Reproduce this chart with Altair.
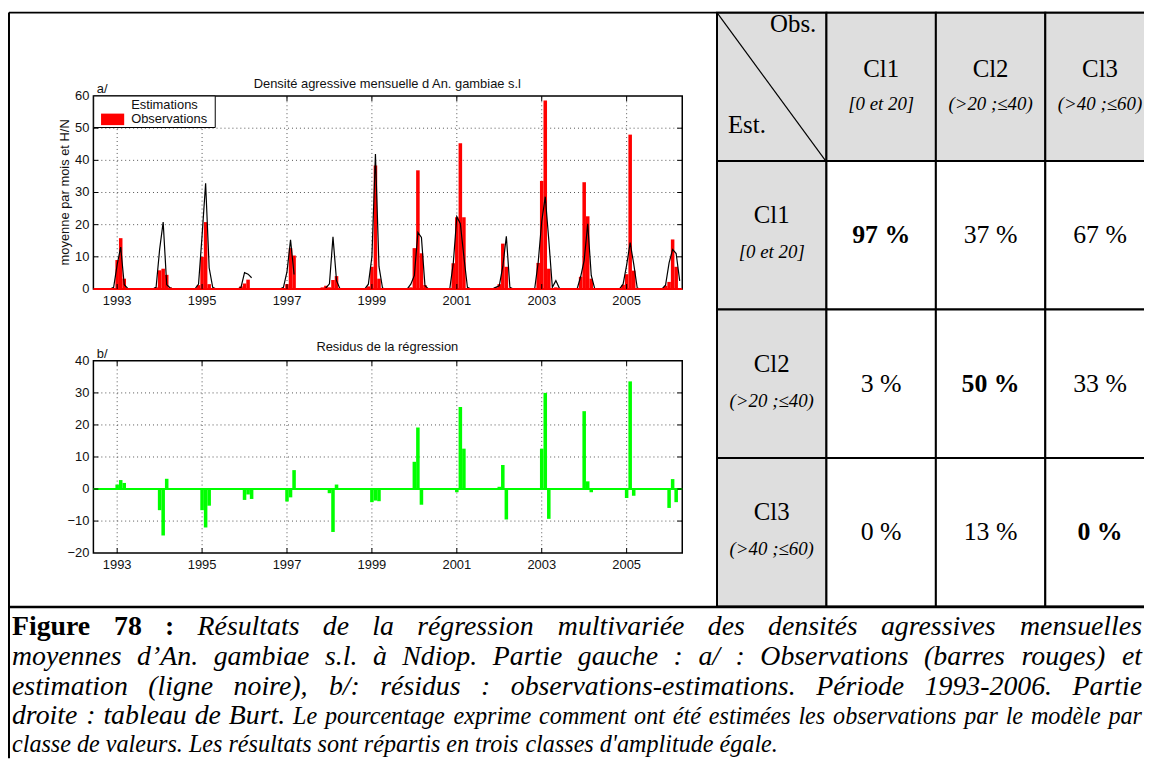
import altair as alt
import pandas as pd

W, H = 1144, 753


def X(p):
    return p - 8


def Y(p):
    return p - 8


SANS = "Liberation Sans"
SERIF = "Liberation Serif"

# ---------------- data ----------------
SEASONS = [1993, 1994, 1995, 1996, 1997, 1998, 1999, 2000, 2001, 2002, 2003, 2004, 2005, 2006]
# month offsets (in months) around each season's reference tick
OFFSETS = [-2, -1, 0, 1, 2, 3, 4, 5]

OBS = [
    [0.0, 0.3, 9.0, 15.8, 3.2, 0.0, 0.0, 0.0],    # 1993
    [0.0, 0.5, 5.8, 6.3, 4.4, 0.5, 0.0, 0.0],     # 1994
    [0.0, 1.2, 10.0, 20.8, 1.5, 0.0, 0.0, 0.0],   # 1995
    [0.0, 0.8, 1.7, 2.9, 0.3, 0.0, 0.0, 0.0],     # 1996
    [0.0, 0.3, 1.5, 12.7, 10.4, 0.0, 0.0, 0.0],   # 1997
    [0.5, 1.0, 0.5, 2.8, 4.0, 0.0, 0.0, 0.0],     # 1998
    [0.0, 0.8, 6.9, 38.4, 3.2, 0.3, 0.0, 0.0],    # 1999
    [0.0, 0.5, 12.7, 36.9, 11.1, 1.2, 0.0, 0.0],  # 2000
    [0.3, 8.0, 22.3, 45.3, 22.3, 0.3, 0.0, 0.0],  # 2001
    [0.0, 0.5, 1.5, 14.1, 6.9, 0.0, 0.0, 0.0],    # 2002
    [0.0, 8.1, 33.6, 58.6, 6.3, 0.3, 0.5, 0.0],   # 2003
    [0.0, 3.8, 33.2, 22.6, 3.2, 0.0, 0.0, 0.0],   # 2004
    [0.0, 1.3, 4.6, 48.0, 5.7, 0.0, 0.0, 0.0],    # 2005
    [0.0, 1.0, 2.2, 15.4, 6.9, 0.0, None, None],  # 2006
]

EST = [
    [0.0, 0.5, 7.6, 13.0, 1.3, 0.2, 0.0, 0.0],     # 1993
    [0.0, 0.5, 12.3, 20.8, 1.3, 0.3, 0.0, 0.0],    # 1994
    [0.0, 1.5, 16.6, 32.9, 6.6, 0.5, 0.0, 0.0],    # 1995
    [0.0, 0.5, 5.1, 4.6, 3.5, None, None, None],   # 1996 (line interrupted)
    [0.0, 0.5, 5.4, 15.3, 4.5, None, None, None],  # 1997 (line interrupted)
    [0.0, 0.3, 1.6, 16.2, 2.6, 0.0, 0.0, 0.0],     # 1998
    [0.0, 1.5, 10.0, 42.0, 7.0, 0.3, 0.0, 0.0],    # 1999
    [0.0, 1.5, 4.2, 17.6, 16.0, 1.0, 0.0, 0.0],    # 2000
    [0.0, 8.0, 22.5, 20.3, 10.0, 0.5, 0.0, 0.0],   # 2001
    [0.0, 0.5, 1.0, 7.0, 16.4, 0.5, 0.0, 0.0],     # 2002
    [0.0, 8.3, 21.0, 28.7, 15.2, 0.5, 2.6, 0.2],   # 2003
    [0.0, 3.8, 8.9, 20.3, 4.2, 0.0, 0.0, 0.0],     # 2004
    [0.0, 1.5, 7.4, 14.4, 7.8, 0.3, 0.0, 0.0],     # 2005
    [0.0, 1.2, 8.1, 12.3, 11.0, 2.5, None, None],  # 2006
]

RES = [
    [0, 0, 1.4, 2.8, 1.9, 0, 0, 0],       # 1993
    [0, 0, -6.6, -14.5, 3.2, 0, 0, 0],    # 1994
    [0, 0, -6.6, -12.0, -5.2, 0, 0, 0],   # 1995
    [0, 0, -3.4, -1.7, -3.1, 0, 0, 0],    # 1996
    [0, 0, -3.9, -2.6, 5.9, 0, 0, 0],     # 1997
    [0, 0, -1.3, -13.4, 1.4, 0, 0, 0],    # 1998
    [0, 0, -4.1, -3.6, -3.8, 0, 0, 0],    # 1999
    [0, 0, 8.5, 19.2, -4.9, 0, 0, 0],     # 2000
    [0, 0, -1.0, 25.6, 12.6, 0, 0, 0],    # 2001
    [0, 0, 0.7, 7.5, -9.5, 0, 0, 0],      # 2002
    [0, 0, 12.6, 30.0, -9.3, 0, 0, 0],    # 2003
    [0, 0, 24.3, 2.4, -1.0, 0, 0, 0],     # 2004
    [0, 0, -2.8, 33.6, -2.1, 0, 0, 0],    # 2005
    [0, 0, -5.9, 3.1, -4.1, 0, None, None],  # 2006
]

YEAR_TICKS = [1993, 1995, 1997, 1999, 2001, 2003, 2005]
YA_TICKS = [0, 10, 20, 30, 40, 50, 60]
YB_TICKS = [-20, -10, 0, 10, 20, 30, 40]

TITLE_A = "Densité agressive mensuelle d An. gambiae s.l"
TITLE_B = "Residus de la régression"
YLABEL_A = "moyenne par mois et H/N"
LEGEND = ["Estimations", "Observations"]

CLASSES = ["Cl1", "Cl2", "Cl3"]
CLASS_RANGES = ["[0 et 20]", "(>20 ;≤40)", "(>40 ;≤60)"]
PCT = [[97, 37, 67], [3, 50, 33], [0, 13, 0]]

# caption: each line is a list of (text, style) runs; lines 1-4 are justified
CAPTION = [
    [("Figure 78 :", "bold"),
     ("Résultats de la régression multivariée des densités agressives mensuelles", "it")],
    [("moyennes d’An. gambiae s.l. à Ndiop. Partie gauche : a/ : Observations (barres rouges) et", "it")],
    [("estimation (ligne noire), b/: résidus : observations-estimations. Période 1993-2006. Partie", "it")],
    [("droite : tableau de Burt.", "it"),
     ("Le pourcentage exprime comment ont été estimées les observations par le modèle par", "small")],
    [("classe de valeurs. Les résultats sont répartis en trois classes d'amplitude égale.", "small")],
]

# ---------------- tables ----------------
obs_rows, res_rows, est_rows = [], [], []
seg, gap = 0, False
for year, o_row, e_row, r_row in zip(SEASONS, OBS, EST, RES):
    for off, o, e, r in zip(OFFSETS, o_row, e_row, r_row):
        t = year + off / 12.0
        if o is not None:
            obs_rows.append({"t": t, "val": o})
        if r is not None:
            res_rows.append({"t": t, "val": r})
        if e is None:
            gap = True
        else:
            if gap:
                seg += 1
                gap = False
            est_rows.append({"t": t, "est": e, "seg": seg})
obs_df = pd.DataFrame(obs_rows)
res_df = pd.DataFrame(res_rows)
est_df = pd.DataFrame(est_rows)

XMIN, XMAX = 1992.44, 2006.31
PL, PR = X(94), X(687)


def ts_scales(dom, top, bottom):
    xs = alt.Scale(domain=[XMIN, XMAX], range=[PL, PR], nice=False, zero=False)
    ys = alt.Scale(domain=dom, range=[bottom, top], nice=False, zero=False)
    return xs, ys


xA, yA = ts_scales([0, 60], Y(94), Y(288.3))
xB, yB = ts_scales([-20, 40], Y(360.7), Y(554.3))

TICKFONT = dict(font=SANS, fontSize=13, color="#111")


def panel(xs, ys, ymin, ymax, yticks, bars_df, bar_color, extra):
    xg = alt.Chart(pd.DataFrame({"v": YEAR_TICKS}))
    yg = alt.Chart(pd.DataFrame({"v": yticks[1:-1]}))
    yall = alt.Chart(pd.DataFrame({"v": yticks}))
    one = alt.Chart(pd.DataFrame({"k": [0]}))
    xd0 = alt.XDatum(XMIN, scale=xs, axis=None)
    xd1 = alt.XDatum(XMAX, scale=xs, axis=None)
    yd0 = alt.YDatum(ymin, scale=ys, axis=None)
    yd1 = alt.YDatum(ymax, scale=ys, axis=None)
    xv = alt.X("v:Q", scale=xs, axis=None)
    yv = alt.Y("v:Q", scale=ys, axis=None)
    dot = dict(color="#555", strokeDash=[1, 3], strokeWidth=1)
    grid_x = xg.mark_rule(**dot).encode(x=xv, y=yd0, y2=alt.datum(ymax))
    grid_y = yg.mark_rule(**dot).encode(y=yv, x=xd0, x2=alt.datum(XMAX))
    bars = alt.Chart(bars_df).transform_calculate(
        t0="datum.t - 1/24", t1="datum.t + 1/24"
    ).mark_rect(color=bar_color).encode(
        x=alt.X("t0:Q", scale=xs, axis=None), x2="t1:Q",
        y=alt.Y("val:Q", scale=ys, axis=None), y2=alt.datum(0))
    frame = one.mark_rect(fillOpacity=0, stroke="black", strokeWidth=1.5).encode(
        x=xd0, x2=alt.datum(XMAX), y=yd0, y2=alt.datum(ymax))
    base = one.mark_rule(color=bar_color, strokeWidth=2).encode(
        x=xd0, x2=alt.datum(XMAX), y=alt.YDatum(0, scale=ys, axis=None))
    tk = dict(color="black", strokeWidth=1)
    t_b = xg.mark_rule(y2Offset=-5, **tk).encode(x=xv, y=yd0, y2=alt.datum(ymin))
    t_t = xg.mark_rule(y2Offset=5, **tk).encode(x=xv, y=yd1, y2=alt.datum(ymax))
    t_l = yg.mark_rule(x2Offset=5, **tk).encode(y=yv, x=xd0, x2=alt.datum(XMIN))
    t_r = yg.mark_rule(x2Offset=-5, **tk).encode(y=yv, x=xd1, x2=alt.datum(XMAX))
    xlab = xg.mark_text(baseline="top", dy=6, **TICKFONT).encode(
        x=xv, y=yd0, text=alt.Text("v:Q", format="d"))
    ylab = yall.mark_text(align="right", baseline="middle", dx=-4, **TICKFONT).encode(
        y=yv, x=xd0, text=alt.Text("v:Q", format="d"))
    layers = [grid_x, grid_y, bars] + extra(xs, ys) + [frame, base, t_b, t_t, t_l, t_r, xlab, ylab]
    return alt.layer(*layers)


def est_line(xs, ys):
    return [alt.Chart(est_df).mark_line(color="black", strokeWidth=1.2).encode(
        x=alt.X("t:Q", scale=xs, axis=None), y=alt.Y("est:Q", scale=ys, axis=None),
        detail="seg:N")]


groupA = panel(xA, yA, 0, 60, YA_TICKS, obs_df, "#ff0000", est_line)
groupB = panel(xB, yB, -20, 40, YB_TICKS, res_df, "#00ff00", lambda xs, ys: [])

# ---------------- table (Burt) ----------------
TX0, CW = X(722), 110.2
xT = alt.Scale(type="band", domain=["corner"] + CLASSES, range=[TX0, TX0 + 4 * CW],
               paddingInner=0, paddingOuter=0)
yT = alt.Scale(type="band", domain=["hdr"] + CLASSES, range=[Y(10), Y(608)],
               paddingInner=0, paddingOuter=0)
GRAY = "#dedede"

cells = []
for r in ["hdr"] + CLASSES:
    for c in ["corner"] + CLASSES:
        cells.append({"col": c, "row": r, "fill": GRAY if (r == "hdr" or c == "corner") else "white"})
cells_df = pd.DataFrame(cells)


def tchart(df, **mk):
    return alt.Chart(df).mark_text(**mk).encode(
        x=alt.X("col:N", scale=xT, axis=None), y=alt.Y("row:N", scale=yT, axis=None), text="text:N")


t_cells = alt.Chart(cells_df).mark_rect(stroke="black", strokeWidth=2).encode(
    x=alt.X("col:N", scale=xT, axis=None), y=alt.Y("row:N", scale=yT, axis=None),
    fill=alt.Fill("fill:N", scale=None))
hdr_df = pd.DataFrame([{"col": c, "row": "hdr", "text": c} for c in CLASSES])
hdr_sub = pd.DataFrame([{"col": c, "row": "hdr", "text": s} for c, s in zip(CLASSES, CLASS_RANGES)])
row_df = pd.DataFrame([{"col": "corner", "row": c, "text": c} for c in CLASSES])
row_sub = pd.DataFrame([{"col": "corner", "row": c, "text": s} for c, s in zip(CLASSES, CLASS_RANGES)])
vals = []
for i, r in enumerate(CLASSES):
    for j, c in enumerate(CLASSES):
        vals.append({"col": c, "row": r, "text": f"{PCT[i][j]} %", "diag": i == j})
vals_df = pd.DataFrame(vals)

serif = dict(font=SERIF, color="black", baseline="alphabetic")
table_group = alt.layer(
    t_cells,
    tchart(hdr_df, fontSize=25, dy=-10, **serif),
    tchart(hdr_sub, fontSize=19, fontStyle="italic", dy=23, **serif),
    tchart(row_df, fontSize=25, dy=-12, **serif),
    tchart(row_sub, fontSize=19, fontStyle="italic", dy=23, **serif),
    tchart(vals_df[~vals_df["diag"]], fontSize=26, dy=8, **serif),
    tchart(vals_df[vals_df["diag"]], fontSize=26, dy=8, fontWeight="bold", **serif),
)

# ---------------- canvas: frame, titles, legend, caption ----------------
xC = alt.Scale(domain=[0, W], range=[0, W], nice=False, zero=False)
yC = alt.Scale(domain=[0, H], range=[0, H], nice=False, zero=False)


def cx(f):
    return alt.X(f, scale=xC, axis=None)


def cy(f):
    return alt.Y(f, scale=yC, axis=None)


def ctext(rows, **mk):
    return alt.Chart(pd.DataFrame(rows)).mark_text(**mk).encode(x=cx("x:Q"), y=cy("y:Q"), text="text:N")


rules_df = pd.DataFrame([
    {"x": 1, "x2": 1, "y": Y(10), "y2": H, "w": 2},
    {"x": 1, "x2": W, "y": Y(10), "y2": Y(10), "w": 2},
    {"x": 1, "x2": W, "y": Y(608.5), "y2": Y(608.5), "w": 2.5},
    {"x": X(722), "x2": X(832), "y": Y(10), "y2": Y(160), "w": 1.2},
    {"x": X(101.7), "x2": X(125), "y": Y(102.7), "y2": Y(102.7), "w": 1.2},
])
c_rules = alt.Chart(rules_df).mark_rule(color="black").encode(
    x=cx("x:Q"), x2="x2:Q", y=cy("y:Q"), y2="y2:Q", strokeWidth=alt.StrokeWidth("w:Q", scale=None))

leg_box = alt.Chart(pd.DataFrame([{"x": X(94.3), "x2": X(216.7), "y": Y(94), "y2": Y(125.7)}])).mark_rect(
    fill="white", stroke="black", strokeWidth=1).encode(x=cx("x:Q"), x2="x2:Q", y=cy("y:Q"), y2="y2:Q")
leg_sw = alt.Chart(pd.DataFrame([{"x": X(101.7), "x2": X(125), "y": Y(111.7), "y2": Y(123.3)}])).mark_rect(
    fill="#ff0000").encode(x=cx("x:Q"), x2="x2:Q", y=cy("y:Q"), y2="y2:Q")

sans = dict(font=SANS, fontSize=13, color="#111", baseline="alphabetic")
titles = ctext([
    {"x": X(390), "y": Y(86), "text": TITLE_A},
    {"x": X(390), "y": Y(351), "text": TITLE_B},
], align="center", **sans)
labels = ctext([
    {"x": X(97.5), "y": Y(90.5), "text": "a/"},
    {"x": X(97.5), "y": Y(358), "text": "b/"},
    {"x": X(132), "y": Y(106.8), "text": LEGEND[0]},
    {"x": X(132), "y": Y(121), "text": LEGEND[1]},
], align="left", **sans)
ytitle = ctext([{"x": X(65), "y": Y(191), "text": YLABEL_A}], align="center", angle=270,
               font=SANS, fontSize=13, color="#111", baseline="middle")

corner_obs = ctext([{"x": X(822), "y": Y(30), "text": "Obs."}], align="right", font=SERIF, fontSize=25,
                   color="black", baseline="alphabetic")
corner_est = ctext([{"x": X(733), "y": Y(131), "text": "Est."}], align="left", font=SERIF, fontSize=25,
                   color="black", baseline="alphabetic")

# ---- caption layout (justified lines, Times-metric word widths) ----
IT_W = {' ': 250, '(': 333, ')': 333, ',': 250, '-': 333, '.': 250, '/': 278, ':': 333, ';': 333,
        "'": 214, '’': 333, 'A': 611, 'B': 611, 'C': 667, 'D': 722, 'E': 611, 'F': 611, 'L': 556,
        'N': 667, 'O': 722, 'P': 611, 'R': 611, 'a': 500, 'b': 500, 'c': 444, 'd': 500, 'e': 444,
        'f': 278, 'g': 500, 'h': 500, 'i': 278, 'j': 278, 'k': 444, 'l': 278, 'm': 722, 'n': 500,
        'o': 500, 'p': 500, 'q': 500, 'r': 389, 's': 389, 't': 278, 'u': 500, 'v': 444, 'w': 667,
        'x': 444, 'y': 444, 'z': 389, 'é': 444, 'è': 444, 'à': 500}
BD_W = {'F': 611, 'i': 278, 'g': 500, 'u': 556, 'r': 444, 'e': 444, ':': 333, ' ': 250}
STYLE = {"bold": (28, BD_W), "it": (28, IT_W), "small": (24.3, IT_W)}


def word_w(word, style):
    size, table = STYLE[style]
    return sum(table.get(ch, 500) for ch in word) * size / 1000.0


CAP_X0, CAP_X1 = X(12), X(1150)
CAP_Y = [Y(637), Y(667), Y(697), Y(726), Y(755)]
cap_rows = {"bold": [], "it": [], "small": []}
for li, line in enumerate(CAPTION):
    words = [(w, st) for txt, st in line for w in txt.split(" ")]
    widths = [word_w(w, st) for w, st in words]
    if li < len(CAPTION) - 1 and len(words) > 1:
        gapw = (CAP_X1 - CAP_X0 - sum(widths)) / (len(words) - 1)
    else:
        gapw = None
    x = CAP_X0
    for (w, st), ww in zip(words, widths):
        cap_rows[st].append({"x": x, "y": CAP_Y[li], "text": w})
        x += ww + (gapw if gapw is not None else word_w(" ", st))

cap_bold = ctext(cap_rows["bold"], align="left", font=SERIF, fontSize=STYLE["bold"][0],
                 fontWeight="bold", color="black", baseline="alphabetic")
cap_it = ctext(cap_rows["it"], align="left", font=SERIF, fontSize=STYLE["it"][0],
               fontStyle="italic", color="black", baseline="alphabetic")
cap_small = ctext(cap_rows["small"], align="left", font=SERIF, fontSize=STYLE["small"][0],
                  fontStyle="italic", color="black", baseline="alphabetic")

canvas_group = alt.layer(c_rules, leg_box, leg_sw, titles, labels, ytitle, corner_obs, corner_est,
                         cap_bold, cap_it, cap_small)

chart = alt.layer(table_group, groupA, groupB, canvas_group).resolve_scale(
    x="independent", y="independent"
).properties(
    width=W, height=H, padding=0, autosize=alt.AutoSizeParams(type="none"), background="white"
).configure_view(strokeWidth=0)

chart.save("out.html", embed_options={"renderer": "svg", "actions": False})
